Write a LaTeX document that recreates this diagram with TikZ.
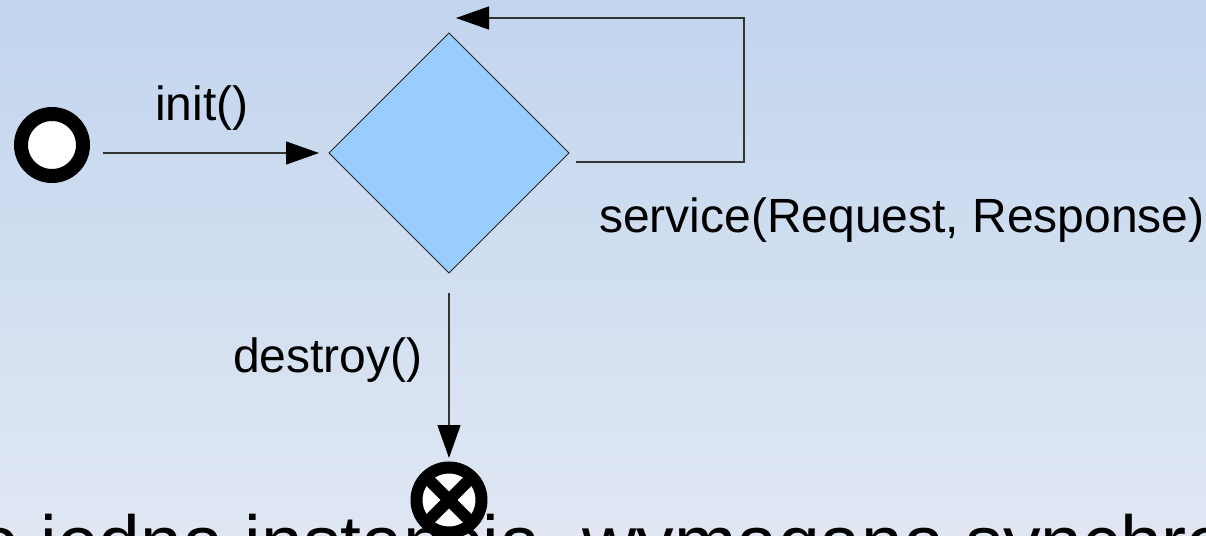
\documentclass[tikz,border=0pt]{standalone}
\usepackage{fontspec}
\setmainfont{Liberation Sans}
\usetikzlibrary{shapes.geometric,arrows.meta,calc}
\definecolor{bgtop}{RGB}{194,213,238}
\definecolor{bgbot}{RGB}{224,231,243}
\definecolor{statefill}{RGB}{153,204,255}
\tikzset{
  conn/.style={draw=black!80, line width=0.6pt, -{Triangle[length=16.5pt,width=11.5pt,color=black,fill=black]}},
  lbl/.style={inner sep=0pt, outer sep=0pt, anchor=base west, font=\fontsize{24}{28}\selectfont},
  initialstate/.style={circle, draw=black, fill=white, line width=7pt, minimum size=31pt, inner sep=0pt, outer sep=0pt},
  finalstate/.style={circle, draw=black, fill=white, line width=6pt, minimum size=32.5pt, inner sep=0pt, outer sep=0pt},
  choice/.style={diamond, draw=black!85, fill=statefill, line width=0.5pt, minimum width=120pt, minimum height=120pt, shape aspect=1, inner sep=0pt, outer sep=0pt},
}
\begin{document}
\begin{tikzpicture}[x=0.5pt,y=-0.5pt]
  \useasboundingbox (0,0) rectangle (1206,536);
  \clip (0,0) rectangle (1206,536);
  % slide background
  \shade[top color=bgtop, bottom color=bgbot] (0,0) rectangle (1206,536);

  % states
  \node[initialstate] (start) at (52,145) {};
  \node[choice] (serv) at (449,153) {};

  % caption line running under the final state
  \node[inner sep=0pt, outer sep=0pt, anchor=base west, font=\fontsize{37.5}{45}\selectfont]
    (note) at (-22,568) {o jedna instancja, wymagana synchro};

  % final state: ring with a cross
  \node[finalstate] (stop) at (449,500) {};
  \draw[line width=6pt] ($(stop.center)+(-19,-19)$) -- ($(stop.center)+(19,19)$);
  \draw[line width=6pt] ($(stop.center)+(-19,19)$) -- ($(stop.center)+(19,-19)$);

  % transitions
  \draw[conn, shorten <=10pt, shorten >=5pt] (start.east |- serv.west) -- (serv.west);
  \draw[conn] ($(serv.east)+(7,9)$) -| ($(serv.north)+(295,-15)$) coordinate (loopcorner)
      -- ($(serv.north)+(7,-15)$);
  \draw[conn, shorten <=10pt, shorten >=4.75pt] (serv.south) -- (stop.north);

  % labels
  \node[lbl] (initlbl) at (155,120) {init()};
  \node[lbl] (servlbl) at (599,232) {service(Request, Response)};
  \node[lbl] (destlbl) at (233,372) {destroy()};
\end{tikzpicture}
\end{document}
